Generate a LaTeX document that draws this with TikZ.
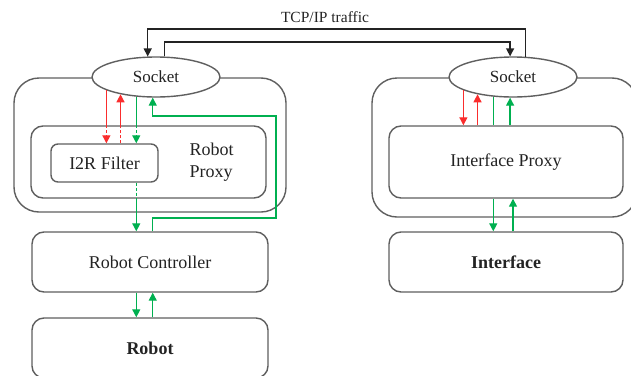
\documentclass[tikz,border=0pt]{standalone}
\usepackage{fontspec}
\setmainfont{Liberation Serif}
\usetikzlibrary{shapes.geometric,arrows.meta,calc}
\definecolor{boxgray}{RGB}{95,95,95}
\definecolor{inkgray}{RGB}{35,35,35}
\definecolor{flowred}{RGB}{250,45,45}
\definecolor{flowgreen}{RGB}{0,176,80}
\tikzset{
  container/.style={draw=boxgray, line width=1.4pt, rounded corners=25pt, inner sep=0pt},
  block/.style={draw=boxgray, line width=1.4pt, rounded corners=12pt, fill=white,
    inner sep=0pt, text=inkgray, font=\fontsize{18}{22}\selectfont},
  socket/.style={ellipse, draw=boxgray, line width=1.4pt, fill=white, inner sep=0pt,
    minimum width=128pt, minimum height=40pt, text=inkgray, font=\fontsize{17}{20}\selectfont},
  redflow/.style={draw=flowred, line width=1.3pt},
  greenflow/.style={draw=flowgreen, line width=1.3pt},
  tip/.style={-{Triangle[width=8pt,length=8pt]}},
  hidden/.style={dash pattern=on 3pt off 2pt},
  tcp/.style={draw=inkgray, line width=1.4pt}
}
\begin{document}
\begin{tikzpicture}[x=1pt,y=-1pt]
\useasboundingbox (0,0) rectangle (631,375);
\clip (0,0) rectangle (631,375);

% outer containers
\node[container, minimum width=272pt, minimum height=134pt] (hostL) at (150,145) {};
\node[container, minimum width=265pt, minimum height=139pt] (hostR) at (504.5,147.5) {};

% blocks
\node[block, minimum width=235pt, minimum height=72pt] (proxyL) at (148.5,162) {};
\node[text=inkgray, font=\fontsize{18}{22}\selectfont, align=left, anchor=west] (proxyLabel) at (186,162) {Robot\\Proxy};
\node[block, rounded corners=7pt, minimum width=107pt, minimum height=38pt] (i2r) at (104.5,163) {I2R Filter};
\node[block, minimum width=236pt, minimum height=60pt] (rc) at (150,262) {Robot Controller};
\node[block, minimum width=236pt, minimum height=60pt, font=\fontsize{18}{22}\selectfont\bfseries] (robot) at (150,348) {Robot};
\node[block, minimum width=234pt, minimum height=72pt] (proxyR) at (506,162) {Interface Proxy};
\node[block, minimum width=234pt, minimum height=60pt, font=\fontsize{18}{22}\selectfont\bfseries] (iface) at (506,262) {Interface};

% sockets
\node[socket] (sockL) at (156,77) {Socket};
\node[socket] (sockR) at (513,77) {Socket};

% TCP/IP traffic between the sockets
\node[text=inkgray, font=\fontsize{15.5}{18}\selectfont] (tcpLabel) at (325,17) {TCP/IP traffic};
\draw[tcp, tip] (sockR.58.5) |- (sockL.112 |- 0,29) -- (sockL.112);
\draw[tcp, tip] (sockL.68) |- (sockR.98.5 |- 0,42) -- (sockR.98.5);

% robot side: socket <-> I2R filter
\draw[redflow] (sockL.195.4) -- (sockL.195.4 |- proxyL.north);
\draw[redflow, hidden, tip] (sockL.195.4 |- proxyL.north) -- (sockL.195.4 |- i2r.north);
\draw[redflow, hidden] (sockL.206.4 |- i2r.north) -- (sockL.206.4 |- proxyL.north);
\draw[redflow, tip] (sockL.206.4 |- proxyL.north) -- (sockL.206.4);
\draw[greenflow] (sockL.225.2) -- (sockL.225.2 |- proxyL.north);
\draw[greenflow, hidden, tip] (sockL.225.2 |- proxyL.north) -- (sockL.225.2 |- i2r.north);

% I2R filter -> robot controller
\draw[greenflow, hidden] (sockL.225.2 |- i2r.south) -- (sockL.225.2 |- proxyL.south);
\draw[greenflow, tip] (sockL.225.2 |- proxyL.south) -- (sockL.225.2 |- rc.north);

% robot controller -> socket
\draw[greenflow, tip] (sockL.261.5 |- rc.north) |- (276,218) |- (sockL.261.5 |- 0,116) -- (sockL.261.5);

% robot controller <-> robot
\draw[greenflow, tip] (sockL.225.2 |- rc.south) -- (sockL.225.2 |- robot.north);
\draw[greenflow, tip] (sockL.261.5 |- robot.north) -- (sockL.261.5 |- rc.south);

% interface side: socket <-> interface proxy
\draw[redflow, tip] (sockR.195.4) -- (sockR.195.4 |- proxyR.north);
\draw[redflow, tip] (sockR.206.4 |- proxyR.north) -- (sockR.206.4);
\draw[greenflow] (sockR.225.2) -- (sockR.225.2 |- proxyR.north);
\draw[greenflow, tip] (sockR.262 |- proxyR.north) -- (sockR.262);

% interface proxy <-> interface
\draw[greenflow, tip] (sockR.225.2 |- proxyR.south) -- (sockR.225.2 |- iface.north);
\draw[greenflow, tip] (sockR.south |- iface.north) -- (sockR.south |- proxyR.south);
\end{tikzpicture}
\end{document}
